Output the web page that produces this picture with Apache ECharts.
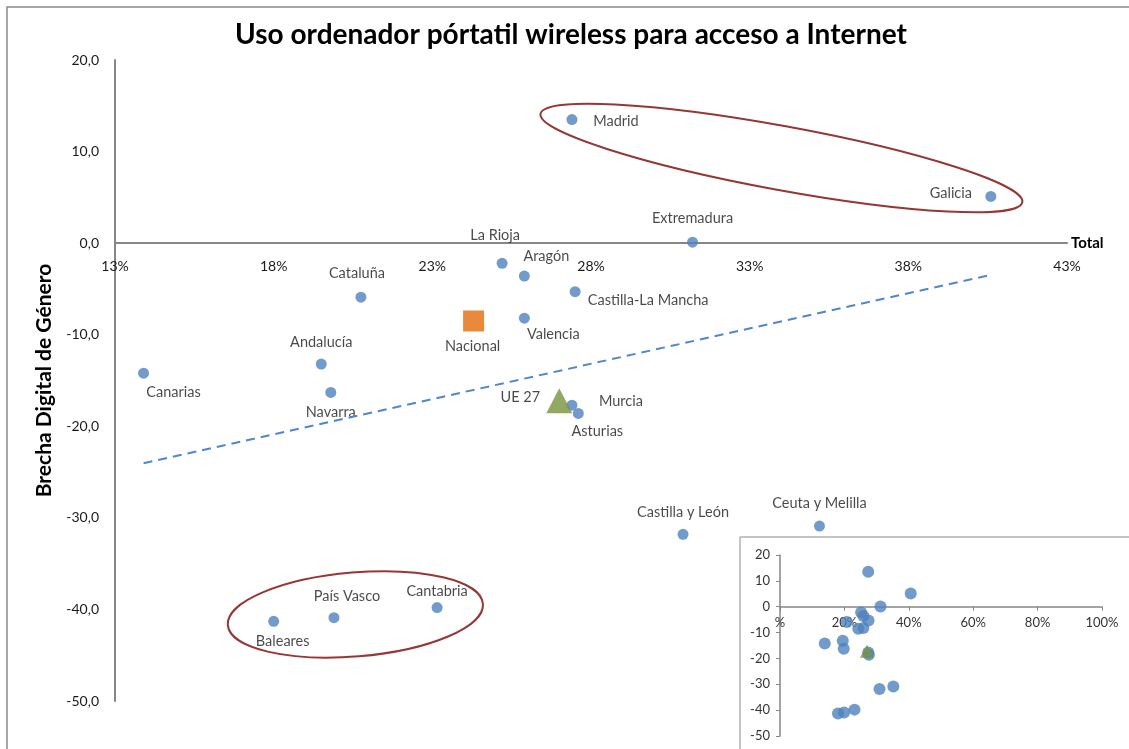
<!DOCTYPE html>
<html lang="es">
<head>
<meta charset="UTF-8">
<title>Uso ordenador pórtatil wireless</title>
<script src="https://cdn.jsdelivr.net/npm/echarts@6.0.0/dist/echarts.min.js"></script>
<style>
    html, body {
        margin: 0;
        padding: 0;
        background: #fff;
    }
    #main {
        width: 1129px;
        height: 749px;
    }
</style>
</head>
<body>
<div id="main"></div>
<script type="text/javascript">
    // datos
    var regiones = ['Madrid', 'Galicia', 'Extremadura', 'La Rioja', 'Aragón', 'Castilla-La Mancha', 'Cataluña',
        'Valencia', 'Andalucía', 'Canarias', 'Navarra', 'Murcia', 'Asturias', 'Castilla y León',
        'Ceuta y Melilla', 'Cantabria', 'País Vasco', 'Baleares'];
    var usoTotal = [27.4, 40.6, 31.2, 25.2, 25.9, 27.5, 20.75, 25.9, 19.5, 13.9, 19.8, 27.4, 27.6, 30.9,
        35.2, 23.15, 19.9, 18.0];
    var brecha = [13.5, 5.1, 0.1, -2.2, -3.6, -5.3, -5.9, -8.2, -13.2, -14.2, -16.3, -17.7, -18.6, -31.8,
        -30.9, -39.8, -40.9, -41.3];
    var nacional = [24.3, -8.5];
    var ue27 = [27.0, -17.2];
    var xTicksMain = [13, 18, 23, 28, 33, 38, 43];
    var xTicksInset = [0, 20, 40, 60, 80, 100];
    var yMin = -50, yMax = 20;
    var grupos = [['Madrid', 'Galicia'], ['Baleares', 'Cantabria']];

    // donde va cada etiqueta respecto al punto (px)
    var labelOffset = {
        'Madrid': [44, 2], 'Galicia': [-40, -3], 'Extremadura': [0, -24], 'La Rioja': [-7, -28],
        'Aragón': [22, -20], 'Castilla-La Mancha': [73, 9], 'Cataluña': [-4, -24], 'Valencia': [29, 16],
        'Andalucía': [0, -22], 'Canarias': [30, 19], 'Navarra': [0, 20], 'Murcia': [49, -4],
        'Asturias': [19, 18], 'Castilla y León': [0, -22], 'Ceuta y Melilla': [0, -23],
        'Cantabria': [0, -16], 'País Vasco': [13, -21], 'Baleares': [9, 20],
        'Nacional': [-1, 25], 'UE 27': [-39, -3]
    };
    var ellipseStyle = [{pad: 32, ry: 32}, {pad: 46, ry: 42}];

    var FONT = 'Lato';
    var BLUE = '#4F81BD';
    var W = 1129, H = 749;
    var grid0 = {left: 115, right: 62, top: 60, bottom: 48};
    var grid1 = {left: 780, right: 27, top: 555, bottom: 13};

    // el eje x va en el cero: desplazamiento desde abajo del grid
    function zeroOffset(g) {
        var h = H - g.top - g.bottom;
        return -h * (0 - yMin) / (yMax - yMin);
    }

    function labelFor(name) {
        return {
            show: true,
            position: 'inside',
            offset: labelOffset[name],
            formatter: '{b}',
            color: '#1a1a1a',
            fontSize: 14.5,
            fontFamily: FONT
        };
    }

    var mainData = regiones.map(function (n, i) {
        return {name: n, value: [usoTotal[i], brecha[i]], label: labelFor(n)};
    });

    // linea de tendencia (minimos cuadrados)
    var n = usoTotal.length, mx = 0, my = 0;
    for (var i = 0; i < n; i++) { mx += usoTotal[i]; my += brecha[i]; }
    mx /= n; my /= n;
    var sxy = 0, sxx = 0;
    for (var i = 0; i < n; i++) {
        sxy += (usoTotal[i] - mx) * (brecha[i] - my);
        sxx += (usoTotal[i] - mx) * (usoTotal[i] - mx);
    }
    var slope = sxy / sxx, icpt = my - slope * mx;
    var xMin = Math.min.apply(null, usoTotal), xMax = Math.max.apply(null, usoTotal);
    var trend = [[xMin, icpt + slope * xMin], [xMax, icpt + slope * xMax]];

    var insetData = regiones.map(function (n, i) {
        return [usoTotal[i], brecha[i]];
    });
    insetData.push(nacional);

    var myChart = echarts.init(document.getElementById('main'), null, {renderer: 'canvas'});

    var option = {
        backgroundColor: '#fff',
        animation: false,
        title: {
            text: 'Uso ordenador pórtatil wireless para acceso a Internet',
            left: 571,
            top: 21,
            padding: 0,
            textAlign: 'center',
            textStyle: {fontFamily: FONT, fontWeight: 'bold', fontSize: 28, color: '#000'}
        },
        grid: [grid0, grid1],
        xAxis: [
            {
                type: 'value', gridIndex: 0, min: 13, max: 43,
                offset: zeroOffset(grid0),
                name: 'Total', nameLocation: 'end', nameGap: 4,
                nameTextStyle: {fontFamily: FONT, fontWeight: 'bold', fontSize: 15, color: '#000', verticalAlign: 'middle'},
                axisLine: {onZero: false, lineStyle: {color: '#868686', width: 2}},
                axisTick: {show: false},
                splitLine: {show: false},
                axisLabel: {
                    customValues: xTicksMain, margin: 16,
                    fontFamily: FONT, fontSize: 14, color: '#1a1a1a',
                    formatter: function (v) { return v + '%'; }
                }
            },
            {
                type: 'value', gridIndex: 1, min: 0, max: 100, interval: 20,
                offset: zeroOffset(grid1),
                axisLine: {onZero: false, lineStyle: {color: '#868686', width: 1.5}},
                axisTick: {show: true, length: 4, lineStyle: {color: '#868686'}},
                splitLine: {show: false},
                axisLabel: {
                    customValues: xTicksInset, margin: 10,
                    fontFamily: FONT, fontSize: 13, color: '#333',
                    formatter: function (v) { return v === 0 ? '%' : v + '%'; }
                }
            }
        ],
        yAxis: [
            {
                type: 'value', gridIndex: 0, min: yMin, max: yMax, interval: 10,
                name: 'Brecha Digital de Género', nameLocation: 'middle', nameGap: 60,
                nameTextStyle: {fontFamily: FONT, fontWeight: 'bold', fontSize: 21, color: '#000'},
                axisLine: {show: true, lineStyle: {color: '#868686', width: 2}},
                axisTick: {show: false},
                splitLine: {show: false},
                axisLabel: {
                    margin: 16, fontFamily: FONT, fontSize: 14, color: '#1a1a1a',
                    formatter: function (v) { return v.toFixed(1).replace('.', ','); }
                }
            },
            {
                type: 'value', gridIndex: 1, min: yMin, max: yMax, interval: 10,
                axisLine: {show: true, lineStyle: {color: '#868686', width: 1.5}},
                axisTick: {show: true, length: 4, lineStyle: {color: '#868686'}},
                splitLine: {show: false},
                axisLabel: {margin: 10, fontFamily: FONT, fontSize: 13, color: '#333'}
            }
        ],
        series: [
            {
                name: 'tendencia', type: 'line', xAxisIndex: 0, yAxisIndex: 0,
                data: trend, symbol: 'none', silent: true,
                lineStyle: {color: '#4F86D0', width: 2, type: [9, 6]}
            },
            {
                name: 'regiones', type: 'scatter', xAxisIndex: 0, yAxisIndex: 0,
                data: mainData, symbolSize: 11,
                itemStyle: {color: BLUE}
            },
            {
                name: 'Nacional', type: 'scatter', xAxisIndex: 0, yAxisIndex: 0,
                data: [{name: 'Nacional', value: nacional, label: labelFor('Nacional')}],
                symbol: 'rect', symbolSize: 21,
                itemStyle: {color: '#E46C0A'}
            },
            {
                name: 'UE 27', type: 'scatter', xAxisIndex: 0, yAxisIndex: 0,
                data: [{name: 'UE 27', value: ue27, label: labelFor('UE 27')}],
                symbol: 'triangle', symbolSize: [26, 25],
                itemStyle: {color: '#77933C'}
            },
            {
                name: 'inset', type: 'scatter', xAxisIndex: 1, yAxisIndex: 1,
                data: insetData, symbolSize: 12,
                itemStyle: {color: BLUE}
            },
            {
                name: 'inset UE', type: 'scatter', xAxisIndex: 1, yAxisIndex: 1,
                data: [ue27], symbol: 'triangle', symbolSize: [14, 13],
                itemStyle: {color: '#77933C'}
            }
        ]
    };

    myChart.setOption(option);

    // elipses y marcos
    function buildGraphic() {
        var els = [
            {type: 'rect', shape: {x: 7, y: 7, width: 1140, height: 760},
                style: {fill: 'none', stroke: '#8a8a8a', lineWidth: 1.5}, silent: true},
            {type: 'rect', shape: {x: 740, y: 537, width: 420, height: 230},
                style: {fill: 'none', stroke: '#8a8a8a', lineWidth: 1}, silent: true}
        ];
        grupos.forEach(function (g, k) {
            var a = regiones.indexOf(g[0]), b = regiones.indexOf(g[1]);
            var pa = myChart.convertToPixel({gridIndex: 0}, [usoTotal[a], brecha[a]]);
            var pb = myChart.convertToPixel({gridIndex: 0}, [usoTotal[b], brecha[b]]);
            var dx = pb[0] - pa[0], dy = pb[1] - pa[1];
            var half = Math.sqrt(dx * dx + dy * dy) / 2;
            els.push({
                type: 'ellipse',
                x: (pa[0] + pb[0]) / 2,
                y: (pa[1] + pb[1]) / 2,
                rotation: -Math.atan2(dy, dx),
                shape: {cx: 0, cy: 0, rx: half + ellipseStyle[k].pad, ry: ellipseStyle[k].ry},
                style: {fill: 'none', stroke: '#953735', lineWidth: 2},
                silent: true,
                z: 10
            });
        });
        return els;
    }

    myChart.setOption({graphic: buildGraphic()});
</script>
</body>
</html>
